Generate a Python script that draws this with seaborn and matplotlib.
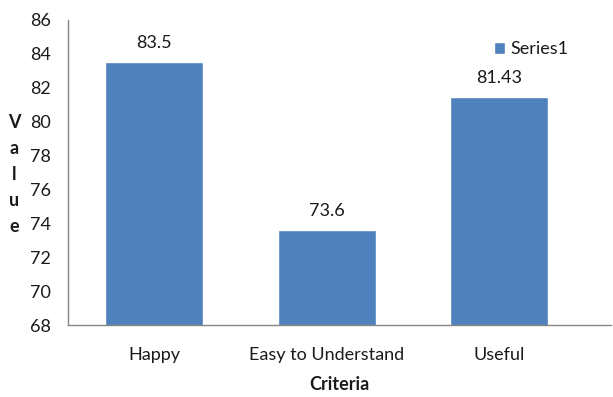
import matplotlib
matplotlib.use("Agg")
import matplotlib.pyplot as plt
import seaborn as sns
import pandas as pd

criteria = ["Happy", "Easy to Understand", "Useful"]
values = [83.5, 73.6, 81.43]
value_labels = ["83.5", "73.6", "81.43"]
y_ticks = [68, 70, 72, 74, 76, 78, 80, 82, 84, 86]
series_name = "Series1"

sns.set_style("white")
plt.rcParams["font.family"] = ["Lato", "DejaVu Sans"]

bar_color = "#4F81BD"
axis_color = "#868686"
text_color = "#1a1a1a"

df = pd.DataFrame({"Criteria": criteria, "Value": values})

fig = plt.figure(figsize=(6.13, 3.97), dpi=100)
ax = fig.add_axes([68 / 613, 1 - 325 / 397, (611 - 68) / 613, (325 - 20) / 397])

sns.barplot(data=df, x="Criteria", y="Value", color=bar_color, width=0.57,
            saturation=1, ax=ax, label=series_name)

ax.set_ylim(68, 86)
ax.set_yticks(y_ticks)
ax.set_xlim(-0.5, 2.648)

for i, (v, lab) in enumerate(zip(values, value_labels)):
    ax.annotate(lab, (i, v), xytext=(0, 8), textcoords="offset points",
                ha="center", va="bottom", fontsize=13, color=text_color)

ax.tick_params(axis="both", length=0, labelsize=13, colors=text_color)
ax.tick_params(axis="y", pad=12)
ax.tick_params(axis="x", pad=16)

for side in ["top", "right"]:
    ax.spines[side].set_visible(False)
for side in ["left", "bottom"]:
    ax.spines[side].set_color(axis_color)
    ax.spines[side].set_linewidth(1)

ax.set_xlabel("Criteria", fontsize=13, fontweight="bold", labelpad=9,
              color=text_color)
ax.set_ylabel("V\na\nl\nu\ne", fontsize=13, fontweight="bold", rotation=0,
              linespacing=1.65, va="center", ha="center", labelpad=0,
              color=text_color)
ax.yaxis.set_label_coords(-54 / 543, 0.5 - 2 / 305)

leg = ax.legend(loc="upper left", bbox_to_anchor=((487 - 68) / 543, 1 - 14 / 305),
                frameon=False, fontsize=13, handlelength=0.6, handleheight=0.6,
                handletextpad=0.3, borderaxespad=0)
for t in leg.get_texts():
    t.set_color(text_color)

fig.savefig("out.png", dpi=100, facecolor="white")
